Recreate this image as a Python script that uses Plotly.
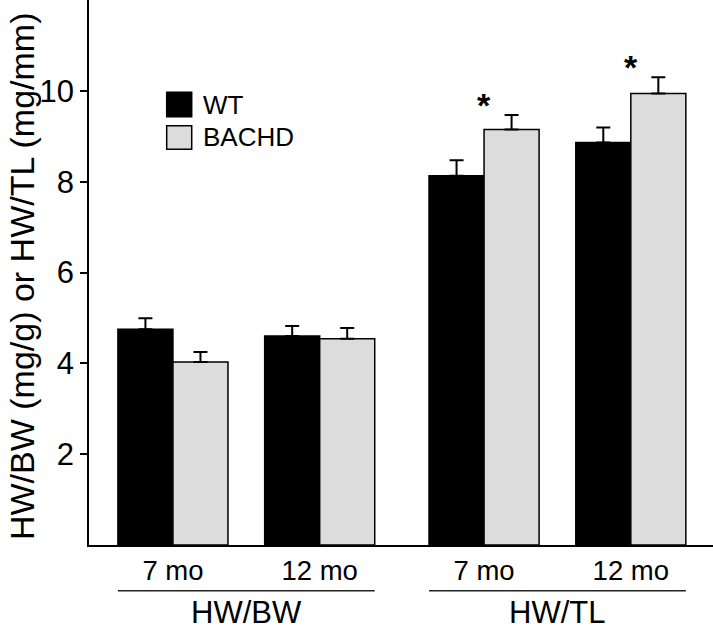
import plotly.graph_objects as go

# ---- data ----
groups = ["HW/BW", "HW/BW", "HW/TL", "HW/TL"]
ages = ["7 mo", "12 mo", "7 mo", "12 mo"]
wt_vals = [4.75, 4.60, 8.13, 8.86]
wt_err = [0.24, 0.22, 0.34, 0.33]
bachd_vals = [4.03, 4.54, 9.15, 9.94]
bachd_err = [0.22, 0.24, 0.32, 0.36]
significant = [False, False, True, True]
y_ticks = [2, 4, 6, 8, 10]

FONT = "Liberation Sans, Arial, Helvetica, sans-serif"
GREY = "#dcdcdc"

# category positions: unit spacing with extra gap between the two measures
group_names = []
for g in groups:
    if g not in group_names:
        group_names.append(g)
pos = [i + 0.12 * group_names.index(g) for i, g in enumerate(groups)]

fig = go.Figure()
fig.add_trace(go.Bar(
    x=pos, y=wt_vals, name="WT",
    marker=dict(color="black", line=dict(color="black", width=1.5)),
    error_y=dict(type="data", array=wt_err, symmetric=False,
                 arrayminus=[0] * len(wt_err), color="black",
                 thickness=2, width=7),
))
fig.add_trace(go.Bar(
    x=pos, y=bachd_vals, name="BACHD",
    marker=dict(color=GREY, line=dict(color="black", width=1.5)),
    error_y=dict(type="data", array=bachd_err, symmetric=False,
                 arrayminus=[0] * len(bachd_err), color="black",
                 thickness=2, width=7),
))

annotations = []
shapes = []

# significance asterisks
for p, v, e, s in zip(pos, bachd_vals, bachd_err, significant):
    if s:
        annotations.append(dict(x=p, y=v + e, xref="x", yref="y", text="<b>*</b>",
                                showarrow=False, yanchor="bottom", yshift=-11,
                                font=dict(family=FONT, size=34, color="black")))

# group underlines and labels
half = 0.375
for g in group_names:
    idx = [i for i, gg in enumerate(groups) if gg == g]
    x0 = pos[idx[0]] - half
    x1 = pos[idx[-1]] + half
    shapes.append(dict(type="line", xref="x", yref="paper", x0=x0, x1=x1,
                       y0=-0.0839, y1=-0.0839,
                       line=dict(color="#222222", width=1.5)))
    annotations.append(dict(x=(pos[idx[0]] + pos[idx[-1]]) / 2, y=-0.124,
                            xref="x", yref="paper", text=g, showarrow=False,
                            yanchor="middle",
                            font=dict(family=FONT, size=31, color="black")))

# manual legend
legend_items = [("WT", "black", 0.8306, 0.7859), ("BACHD", GREY, 0.7694, 0.7261)]
for name, col, ytop, ybot in legend_items:
    shapes.append(dict(type="rect", xref="paper", yref="paper",
                       x0=0.1245, x1=0.1646, y0=ybot, y1=ytop,
                       fillcolor=col, line=dict(color="black", width=1.5)))
    annotations.append(dict(x=0.1790, y=(ytop + ybot) / 2, xref="paper",
                            yref="paper", text=name, showarrow=False,
                            xanchor="left", yanchor="middle",
                            font=dict(family=FONT, size=26, color="black")))

# y-axis title
annotations.append(dict(x=-0.1085, y=0.494, xref="paper", yref="paper",
                        text="HW/BW (mg/g) or HW/TL (mg/mm)", textangle=-90,
                        showarrow=False, xanchor="center", yanchor="middle",
                        font=dict(family=FONT, size=34, color="black")))

fig.update_layout(
    width=713, height=629,
    margin=dict(l=89, r=0, t=0, b=84),
    paper_bgcolor="white", plot_bgcolor="white",
    barmode="group", bargap=0.25, bargroupgap=0,
    showlegend=False,
    shapes=shapes, annotations=annotations,
    font=dict(family=FONT, color="black"),
)
fig.update_xaxes(
    range=[-0.572, 3.680], tickvals=pos, ticktext=ages,
    showline=True, linecolor="black", linewidth=1.5,
    ticks="", showgrid=False, zeroline=False,
    tickfont=dict(family=FONT, size=27.5, color="black"),
)
fig.update_yaxes(
    range=[0, 12], tickvals=y_ticks,
    showline=True, linecolor="black", linewidth=1.5,
    ticks="outside", ticklen=7, tickwidth=1.5, tickcolor="black",
    showgrid=False, zeroline=False,
    tickfont=dict(family=FONT, size=31, color="black"),
)

fig.write_html(
    "out.html",
    config={"displayModeBar": False},
    post_script="document.body.style.margin='0';document.body.style.overflow='hidden';",
)
